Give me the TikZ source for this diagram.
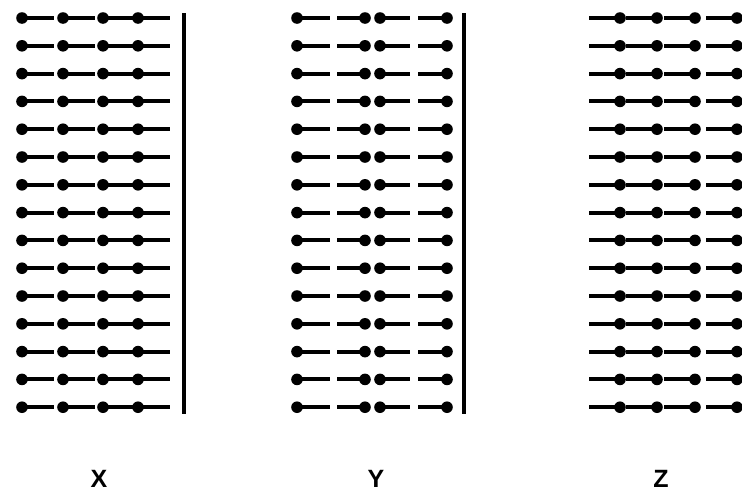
\documentclass[tikz,border=0pt]{standalone}
\usepackage{fontspec}
\setsansfont{Liberation Sans}
\usetikzlibrary{positioning}

\begin{document}
\begin{tikzpicture}[
    x=1pt, y=-1pt,
    stick/.style={line width=4pt},
    head/.style={fill=black},
    wall/.style={line width=4.4pt},
    lbl/.style={font=\sffamily\bfseries\fontsize{25}{25}\selectfont, inner sep=0pt},
  ]
  \useasboundingbox (0,0) rectangle (742,493);

  % X: heads all to the left
  \foreach \r [evaluate=\r as \y using 18+27.8*\r] in {0,...,14}{
    \foreach \x in {22,63,103,138}{
      \draw[stick] (\x,\y) -- ++(32,0);
      \fill[head] (\x,\y) circle (5.8);
    }
  }
  \coordinate (xtop) at (184,13);
  \coordinate (xbot) at (184,414);
  \draw[wall] (xtop) -- (xbot);

  % Y: pairs head to head
  \foreach \r [evaluate=\r as \y using 18+27.8*\r] in {0,...,14}{
    \foreach \a/\b in {297/330,365/337,380/410,447/418}{
      \draw[stick] (\a,\y) -- (\b,\y);
      \fill[head] (\a,\y) circle (5.8);
    }
  }
  \coordinate (ytop) at (464,13);
  \coordinate (ybot) at (464,414);
  \draw[wall] (ytop) -- (ybot);

  % Z: heads all to the right
  \foreach \r [evaluate=\r as \y using 18+27.8*\r] in {0,...,14}{
    \foreach \x in {620,657,695,737}{
      \draw[stick] (\x,\y) -- ++(-31,0);
      \fill[head] (\x,\y) circle (5.8);
    }
  }

  \node[lbl] (labx) at (99,479) {X};
  \node[lbl] (laby) at (376,479) {Y};
  \node[lbl] (labz) at (661,479) {Z};
\end{tikzpicture}
\end{document}
